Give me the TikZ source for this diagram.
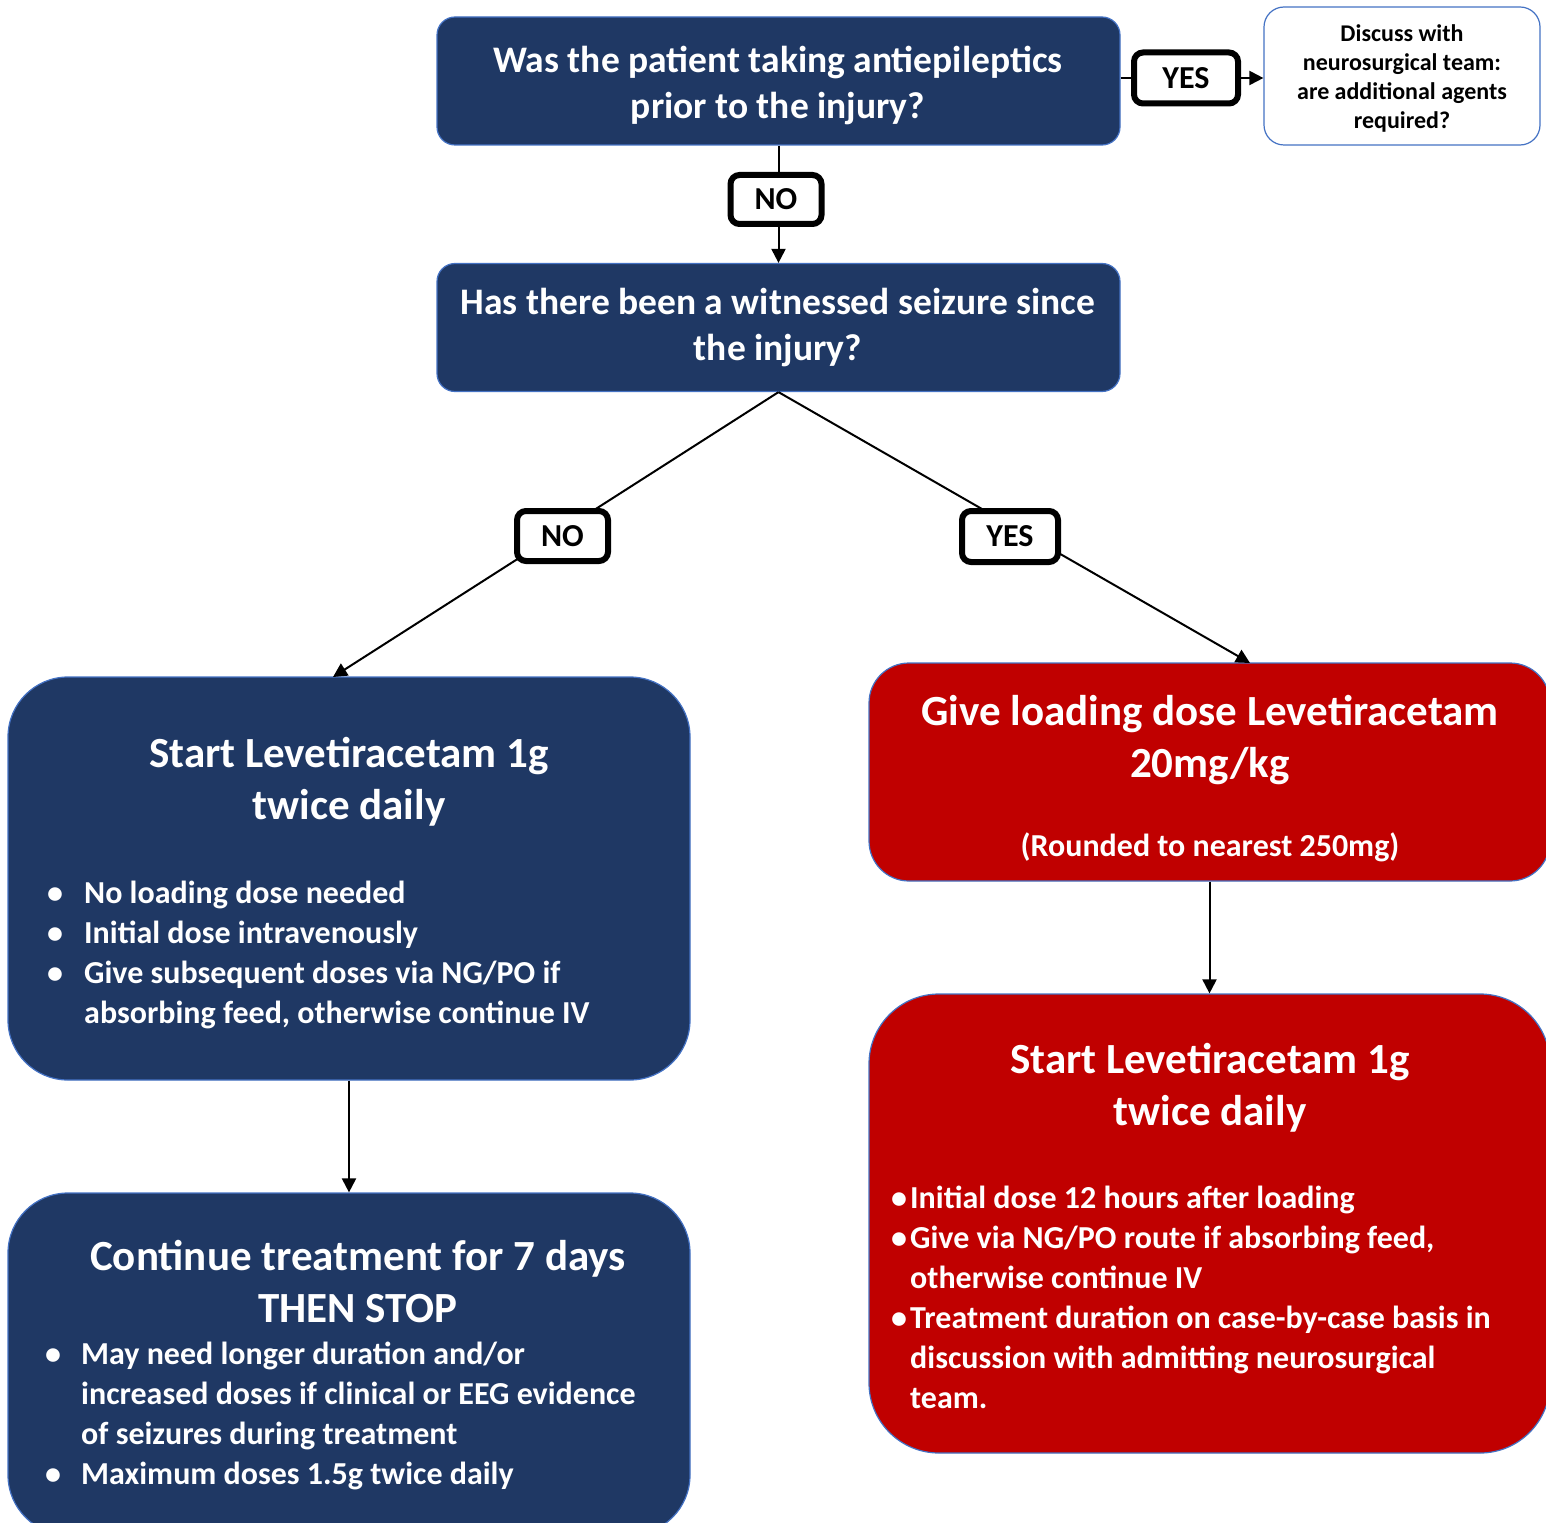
\documentclass[tikz,border=0pt]{standalone}
\usepackage{fontspec}
\setmainfont{Carlito}
\usetikzlibrary{arrows.meta,calc}
\definecolor{navy}{HTML}{1F3864}
\definecolor{deepred}{HTML}{C00000}
\definecolor{edgeblue}{HTML}{4472C4}
\newcommand{\bitem}[2]{\par\hangindent=#1\hangafter=1\noindent\makebox[#1][l]{•}#2\par}
\newcommand{\brk}{\hfil\break}
\tikzset{
  navybox/.style={draw=edgeblue, line width=1.2pt, fill=navy, text=white, inner sep=0pt},
  redbox/.style={draw=edgeblue, line width=1.2pt, fill=deepred, text=white, inner sep=0pt},
  whitebox/.style={draw=edgeblue, line width=1.2pt, fill=white, text=black, inner sep=0pt, rounded corners=20pt},
  lbl/.style={draw=black, line width=6pt, fill=white, rounded corners=9pt, inner sep=0pt,
    font=\fontsize{32}{38}\selectfont\bfseries},
  conn/.style={line width=2pt, draw=black},
  arr/.style={conn, -{Triangle[length=14pt,width=14pt]}},
  qtext/.style={align=center, font=\fontsize{37.5}{46}\selectfont\bfseries},
  ttext/.style={align=center, text=white, inner sep=0pt, font=\fontsize{43}{52}\selectfont\bfseries},
  ltext/.style={align=flush left, text=white, inner sep=0pt, font=\fontsize{32}{40}\selectfont\bfseries},
}
\begin{document}
\begin{tikzpicture}[x=1pt,y=-1pt]
\clip (0,0) rectangle (1546,1522);
\fill[white] (0,0) rectangle (1546,1522);

% main boxes
\node[navybox, rounded corners=18pt, minimum width=683pt, minimum height=128pt] (box1) at (778.5,81) {};
\node[qtext, text=white, inner sep=0pt] (t1) at (778,85) {Was the patient taking antiepileptics\\prior to the injury?};
\node[whitebox, minimum width=276pt, minimum height=138pt] (discuss) at (1402,76) {};
\node[align=center, inner sep=0pt, font=\fontsize{24}{29}\selectfont\bfseries] (tdisc) at (1402,78)
  {Discuss with\\neurosurgical team:\\are additional agents\\required?};
\node[navybox, rounded corners=18pt, minimum width=683pt, minimum height=128pt] (box2) at (778.5,327.5) {};
\node[qtext, text=white, inner sep=0pt] (t2) at (778,328) {Has there been a witnessed seizure since\\the injury?};

\node[navybox, rounded corners=60pt, minimum width=682pt, minimum height=403pt] (box3) at (349,878.5) {};
\node[navybox, rounded corners=60pt, minimum width=682pt, minimum height=342pt] (box4) at (349,1364) {};
\node[redbox, rounded corners=40pt, minimum width=681pt, minimum height=218pt] (box5) at (1209.5,772) {};
\node[redbox, rounded corners=70pt, minimum width=681pt, minimum height=459pt] (box6) at (1209.5,1223.5) {};

% texts in big boxes
\node[ttext] (t3title) at (349,782) {Start Levetiracetam 1g\\twice daily};
\node[ltext, anchor=west, text width=640pt] (t3list) at (47,946)
  {\bitem{37pt}{No loading dose needed}\bitem{37pt}{Initial dose intravenously}\bitem{37pt}{Give subsequent doses via NG/PO if\brk absorbing feed, otherwise continue IV}};

\node[ttext] (t4title) at (358,1282) {Continue treatment for 7 days\\THEN STOP};
\node[ltext, anchor=west, text width=640pt] (t4list) at (45,1407.5)
  {\bitem{36pt}{May need longer duration and/or\brk increased doses if clinical or EEG evidence\brk of seizures during treatment}\bitem{36pt}{Maximum doses 1.5g twice daily}};

\node[ttext] (t5title) at (1210,740) {Give loading dose Levetiracetam\\20mg/kg};
\node[text=white, inner sep=0pt, font=\fontsize{32}{38}\selectfont\bfseries] (t5note) at (1210,847) {(Rounded to nearest 250mg)};

\node[ttext] (t6title) at (1210,1088) {Start Levetiracetam 1g\\twice daily};
\node[ltext, anchor=west, text width=650pt] (t6list) at (891,1289)
  {\bitem{19pt}{Initial dose 12 hours after loading}\bitem{19pt}{Give via NG/PO route if absorbing feed,\brk otherwise continue IV}\bitem{19pt}{Treatment duration on case-by-case basis in\brk discussion with admitting neurosurgical\brk team.}};

% connector end points
\coordinate (e3) at (333,677);
\coordinate (e5) at (1250,663);

% connectors
\draw[arr] (box1.south) -- (box2.north);
\draw[arr] (box2.south) -- (e3);
\draw[arr] (box2.south) -- (e5);
\draw[arr] (box3.south) -- (box4.north);
\draw[arr] (box5.south) -- (box6.north);

% labels
\node[lbl, minimum width=104pt, minimum height=51pt] (yes1) at (1186,78) {YES};
\draw[conn] (yes1.west -| box1.east) -- (yes1.west);
\draw[arr] (yes1.east) -- (yes1.east -| discuss.west);
\node[lbl, minimum width=91pt, minimum height=49pt] (no1) at (776,199.5) {NO};
\node[lbl, minimum width=91pt, minimum height=50pt] (no2) at (562.5,536) {NO};
\node[lbl, minimum width=96pt, minimum height=51pt] (yes2) at (1010,536.5) {YES};
\end{tikzpicture}
\end{document}
